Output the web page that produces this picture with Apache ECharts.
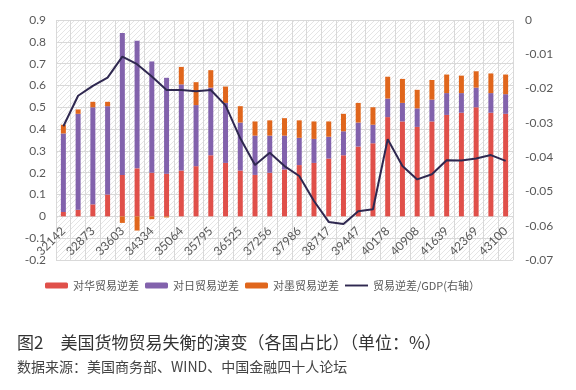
<!DOCTYPE html>
<html><head><meta charset="utf-8">
<script src="https://cdn.jsdelivr.net/npm/echarts@6/dist/echarts.min.js"></script>
<style>html,body{margin:0;padding:0;background:#fff}#c{width:576px;height:390px}</style>
</head><body><div id="c"></div>
<script>
const categories = ['32142','32508','32873','33238','33603','33969','34334','34699','35064','35430','35795','36160','36525','36891','37256','37621','37986','38352','38717','39082','39447','39813','40178','40543','40908','41274','41639','42004','42369','42735','43100'];
const china  = [0.02,0.03,0.055,0.10,0.19,0.22,0.20,0.195,0.21,0.23,0.28,0.245,0.21,0.19,0.20,0.215,0.235,0.245,0.265,0.28,0.32,0.335,0.455,0.435,0.41,0.435,0.465,0.475,0.50,0.475,0.47];
const japan  = [0.36,0.44,0.445,0.405,0.65,0.585,0.51,0.44,0.395,0.28,0.31,0.275,0.22,0.18,0.17,0.155,0.125,0.11,0.10,0.11,0.11,0.085,0.085,0.085,0.085,0.10,0.10,0.09,0.09,0.09,0.09];
const mexico = [0.04,0.02,0.025,0.02,-0.03,-0.065,-0.013,-0.005,0.08,0.105,0.08,0.075,0.075,0.065,0.07,0.08,0.08,0.08,0.07,0.08,0.09,0.08,0.10,0.11,0.085,0.09,0.085,0.08,0.075,0.09,0.09];
const gdpRatio = [-0.031,-0.0221,-0.0192,-0.0168,-0.0107,-0.0129,-0.0165,-0.0204,-0.0204,-0.0208,-0.0204,-0.0249,-0.0345,-0.0423,-0.0387,-0.0426,-0.0455,-0.0528,-0.0589,-0.0595,-0.0558,-0.0552,-0.0348,-0.0426,-0.0465,-0.045,-0.0409,-0.041,-0.0404,-0.0394,-0.0411];
const seriesNames = ['对华贸易逆差','对日贸易逆差','对墨贸易逆差','贸易逆差/GDP(右轴）'];
const titleText = '图2　美国货物贸易失衡的演变（各国占比）（单位：%）';
const sourceText = '数据来源：美国商务部、WIND、中国金融四十人论坛';

function hatch(){
  const s = 5;
  const c = document.createElement('canvas'); c.width = s; c.height = s;
  const g = c.getContext('2d');
  g.fillStyle = '#ffffff'; g.fillRect(0,0,s,s);
  g.strokeStyle = '#dedede'; g.lineWidth = 0.8;
  g.beginPath();
  g.moveTo(-1, s+1); g.lineTo(s+1, -1);
  g.moveTo(-1, 1); g.lineTo(1, -1);
  g.moveTo(s-1, s+1); g.lineTo(s+1, s-1);
  g.stroke();
  return c;
}
const chart = echarts.init(document.getElementById('c'), null, {renderer:'canvas'});
const gridColor = '#d9d9d9';
const labelColor = '#595959';
const lineColor = '#2F2850';
chart.setOption({
  animation:false,
  textStyle:{fontFamily:'Lato, "Noto Sans CJK SC", sans-serif'},
  title:[
    {text:titleText, left:17, top:334, padding:0, textStyle:{fontSize:17, fontWeight:'normal', color:'#333', fontFamily:'"Noto Sans CJK SC"'}},
    {text:sourceText, left:17, top:360, padding:0, textStyle:{fontSize:14, fontWeight:'normal', color:'#444', fontFamily:'"Noto Sans CJK SC"'}}
  ],
  legend:{
    left:40, top:275, itemWidth:23, itemHeight:6, itemGap:6,
    textStyle:{fontSize:11, color:labelColor, fontFamily:'"Noto Sans CJK SC"'},
    data:[seriesNames[0], seriesNames[1], seriesNames[2],
      {name:seriesNames[3], icon:'path://M0,0H24V2H0Z', itemStyle:{color:lineColor}}]
  },
  grid:{left:56, right:63, top:20, bottom:130, show:true, borderWidth:0,
    backgroundColor:{image:hatch(), repeat:'repeat'}},
  xAxis:{
    type:'category', data:categories, position:'bottom',
    axisLine:{show:false, onZero:false},
    axisTick:{show:false},
    axisLabel:{rotate:45, interval:1, color:labelColor, fontSize:12, margin:-31},
    splitLine:{show:true, interval:0, lineStyle:{color:gridColor}}
  },
  yAxis:[
    {type:'value', min:-0.2, max:0.9, interval:0.1,
     axisLine:{show:false}, axisTick:{show:false},
     axisLabel:{color:labelColor, fontSize:12, margin:10, formatter:v=>String(Number(v.toFixed(1)))},
     splitLine:{show:true, lineStyle:{color:gridColor}}},
    {type:'value', min:-0.07, max:0, interval:0.01, position:'right',
     axisLine:{show:false}, axisTick:{show:false},
     axisLabel:{color:labelColor, fontSize:12, margin:12, formatter:v=>String(Number(v.toFixed(2)))},
     splitLine:{show:false}}
  ],
  series:[
    {name:seriesNames[0], type:'bar', stack:'t', data:china, barWidth:5, itemStyle:{color:'#E0504A'}},
    {name:seriesNames[1], type:'bar', stack:'t', data:japan, barWidth:5, itemStyle:{color:'#8262AC'}},
    {name:seriesNames[2], type:'bar', stack:'t', data:mexico, barWidth:5, itemStyle:{color:'#E0661C'}},
    {name:seriesNames[3], type:'line', yAxisIndex:1, data:gdpRatio, symbol:'none', showSymbol:false, lineStyle:{color:lineColor, width:2}, itemStyle:{color:lineColor}, z:5}
  ]
});
</script></body></html>
